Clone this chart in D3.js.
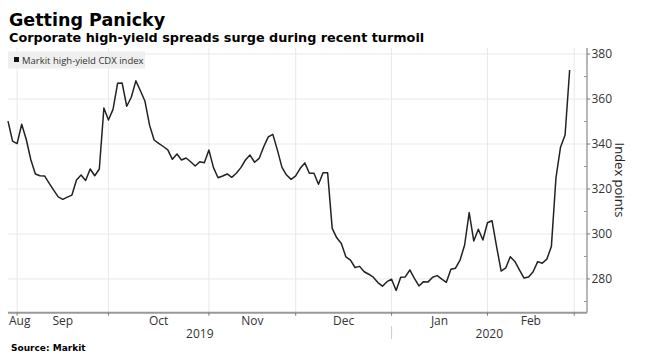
<!DOCTYPE html>
<html>
<head>
<meta charset="utf-8">
<script src="https://cdn.jsdelivr.net/npm/d3@7"></script>
<style>
  body { margin: 0; background: #fff; }
  svg { display: block; font-family: "Open Sans", "DejaVu Sans", sans-serif; }
</style>
</head>
<body>
<svg id="chart" width="646" height="361"></svg>
<script>
// Markit CDX high-yield index, one value per US bond market trading day
var startDate = "2019-08-29";
var endDate = "2020-02-28";
var holidays = ["2019-09-02", "2019-10-14", "2019-11-11", "2019-11-28",
	"2019-12-25", "2020-01-01", "2020-01-20", "2020-02-17"];

var values = [
	350.2, 341.3, 340.2, 348.8, 342.0, 333.0, 326.7, 325.9, 325.8, 322.6,
	319.5, 316.5, 315.4, 316.4, 317.3, 324.0, 326.2, 323.8, 328.9, 325.9,
	328.9, 356.0, 350.7, 355.4, 367.0, 367.1, 356.8, 360.8, 368.1, 363.7,
	359.0, 348.4, 341.8, 340.3, 338.9, 337.4, 333.2, 335.6, 332.9, 333.8,
	332.1, 330.2, 332.1, 331.7, 337.3, 329.5, 325.0, 325.8, 326.7, 325.2,
	327.0, 329.5, 332.9, 335.1, 331.9, 333.6, 338.8, 343.2, 344.3, 337.3,
	329.6, 326.2, 324.3, 325.8, 329.2, 331.6, 327.0, 327.0, 322.1, 327.2,
	327.2, 302.5, 298.3, 295.8, 289.8, 288.4, 285.1, 285.6, 283.2, 282.1,
	280.8, 278.4, 276.8, 278.8, 279.9, 274.9, 280.8, 280.9, 284.0, 280.3,
	276.9, 278.8, 278.7, 280.8, 281.5, 279.9, 278.5, 284.3, 284.8, 288.4,
	295.1, 309.5, 296.9, 302.1, 297.3, 305.0, 305.9, 294.4, 283.5, 284.9,
	289.9, 287.8, 284.0, 280.4, 280.9, 283.2, 287.7, 287.0, 288.8, 294.4,
	324.9, 338.6, 344.0, 372.9
];

var yTicks = [280, 300, 320, 340, 360, 380];
var yMinor = [270, 290, 310, 330, 350, 370];
var monthNames = ["Jan", "Feb", "Mar", "Apr", "May", "Jun", "Jul", "Aug", "Sep", "Oct", "Nov", "Dec"];

var title = "Getting Panicky";
var subtitle = "Corporate high-yield spreads surge during recent turmoil";
var legendLabel = "Markit high-yield CDX index";
var yTitle = "Index points";
var source = "Source: Markit";

// trading days list
var parse = d3.utcParse("%Y-%m-%d");
var fmt = d3.utcFormat("%Y-%m-%d");
var dates = [];
d3.utcDay.range(parse(startDate), d3.utcDay.offset(parse(endDate), 1)).forEach(function (d) {
	var wd = d.getUTCDay();
	if (wd == 0 || wd == 6) return;
	if (holidays.indexOf(fmt(d)) >= 0) return;
	dates.push(d);
});
var data = dates.map(function (d, i) { return { date: d, i: i, v: values[i] }; });

var svg = d3.select("#chart");
var pLeft = 8, pRight = 587, pTop = 48, pBottom = 312.7;

var x = d3.scaleLinear().domain([0, 126.8]).range([pLeft, pRight]);
var y = d3.scaleLinear().domain([265, 382.7]).range([pBottom, pTop]);

// month boundaries (first trading day of each month)
var bounds = [0];
for (var i = 1; i < dates.length; ++i) {
	if (dates[i].getUTCMonth() != dates[i - 1].getUTCMonth()) bounds.push(i);
}
bounds.push(dates.length);
var monthTicks = bounds.slice(1);

// gridlines
svg.append("g").selectAll("line").data(yTicks).enter().append("line")
	.attr("x1", pLeft).attr("x2", pRight)
	.attr("y1", function (d) { return y(d); }).attr("y2", function (d) { return y(d); })
	.attr("stroke", "#e9e9e9").attr("stroke-width", 1);
svg.append("g").selectAll("line").data(monthTicks).enter().append("line")
	.attr("x1", function (d) { return x(d); }).attr("x2", function (d) { return x(d); })
	.attr("y1", pTop).attr("y2", pBottom)
	.attr("stroke", "#e9e9e9").attr("stroke-width", 1);

// legend
svg.append("rect").attr("x", 8).attr("y", 51.5).attr("width", 137).attr("height", 17)
	.attr("fill", "#efefef");
svg.append("rect").attr("x", 14).attr("y", 57).attr("width", 5).attr("height", 5).attr("fill", "#111");
svg.append("text").attr("x", 22).attr("y", 63.5).attr("font-size", 9.5)
	.attr("fill", "#333").text(legendLabel);

// line
var line = d3.line().x(function (d) { return x(d.i); }).y(function (d) { return y(d.v); });
svg.append("path").datum(data).attr("d", line)
	.attr("fill", "none").attr("stroke", "#222").attr("stroke-width", 1.5)
	.attr("stroke-linejoin", "round");

// y axis (right)
var yAxis = svg.append("g").attr("transform", "translate(" + pRight + ",0)");
yAxis.append("line").attr("y1", pTop).attr("y2", pBottom).attr("stroke", "#888").attr("stroke-width", 1.2);
yAxis.selectAll("line.major").data(yTicks).enter().append("line").attr("class", "major")
	.attr("x1", 0).attr("x2", 3).attr("y1", function (d) { return y(d); }).attr("y2", function (d) { return y(d); })
	.attr("stroke", "#777");
yAxis.selectAll("line.minor").data(yMinor).enter().append("line").attr("class", "minor")
	.attr("x1", -3).attr("x2", 0).attr("y1", function (d) { return y(d); }).attr("y2", function (d) { return y(d); })
	.attr("stroke", "#999");
yAxis.selectAll("text").data(yTicks).enter().append("text")
	.attr("x", 4.5).attr("y", function (d) { return y(d) + 4.3; })
	.attr("font-size", 12).attr("fill", "#333").text(function (d) { return d; });
svg.append("text").attr("transform", "translate(615,180) rotate(90)")
	.attr("text-anchor", "middle").attr("font-size", 13).attr("fill", "#222").text(yTitle);

// x axis
var xAxis = svg.append("g");
xAxis.append("line").attr("x1", pLeft).attr("x2", pRight).attr("y1", pBottom).attr("y2", pBottom)
	.attr("stroke", "#999").attr("stroke-width", 2);
xAxis.selectAll("line.t").data(monthTicks).enter().append("line").attr("class", "t")
	.attr("x1", function (d) { return x(d); }).attr("x2", function (d) { return x(d); })
	.attr("y1", pBottom).attr("y2", pBottom + 3).attr("stroke", "#777");

var segs = [];
for (var k = 0; k < bounds.length - 1; ++k) {
	segs.push({ a: bounds[k], b: bounds[k + 1], name: monthNames[dates[bounds[k]].getUTCMonth()] });
}
xAxis.selectAll("text.m").data(segs).enter().append("text").attr("class", "m")
	.attr("x", function (d) { return (x(d.a) + x(d.b)) / 2; })
	.attr("y", 325).attr("text-anchor", "middle").attr("font-size", 12).attr("fill", "#333")
	.text(function (d) { return d.name; })
	.each(function () {
		var w = this.getComputedTextLength();
		var cx = +d3.select(this).attr("x");
		if (cx - w / 2 < pLeft + 1) d3.select(this).attr("x", pLeft + 1 + w / 2);
	});

// years
var yearSplit = bounds[bounds.length - 3];
var years = [{ a: x(0), b: x(yearSplit), t: "2019" }, { a: x(yearSplit), b: pRight, t: "2020" }];
xAxis.selectAll("text.y").data(years).enter().append("text").attr("class", "y")
	.attr("x", function (d) { return (d.a + d.b) / 2; }).attr("y", 338)
	.attr("text-anchor", "middle").attr("font-size", 12).attr("fill", "#333")
	.text(function (d) { return d.t; });
xAxis.append("line").attr("x1", x(yearSplit)).attr("x2", x(yearSplit))
	.attr("y1", 326).attr("y2", 339).attr("stroke", "#ccc");

// titles
svg.append("text").attr("x", 9).attr("y", 26).attr("font-size", 17.5).attr("font-weight", "bold")
	.attr("font-family", "DejaVu Sans").attr("fill", "#000").text(title);
svg.append("text").attr("x", 9).attr("y", 42).attr("font-size", 12.8).attr("font-weight", "bold")
	.attr("font-family", "DejaVu Sans").attr("fill", "#000").text(subtitle);
svg.append("text").attr("x", 11).attr("y", 350.5).attr("font-size", 9).attr("font-weight", "bold")
	.attr("font-family", "DejaVu Sans").attr("fill", "#000").text(source);
</script>
</body>
</html>
